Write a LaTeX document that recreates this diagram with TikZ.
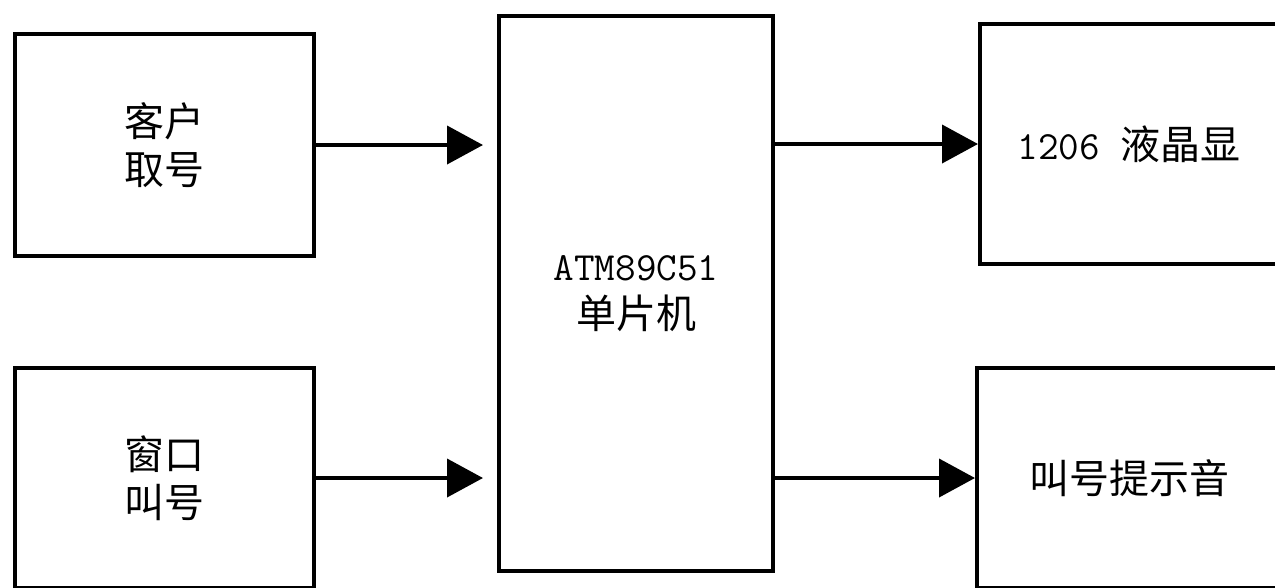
\documentclass[tikz,border=0pt]{standalone}
\usepackage{fontspec}
\newfontfamily\cjk{Noto Sans CJK SC}
\usetikzlibrary{arrows.meta}

\tikzset{every picture/.style={line width=0.75pt}}
\tikzset{
  blockbox/.style={draw, line width=3pt, align=center, inner sep=0pt,
    font=\fontsize{30}{36}\selectfont\cjk},
  flowarrow/.style={line width=3pt, -{Triangle[length=27pt,width=28.5pt]}}
}

\begin{document}
\begin{tikzpicture}[x=0.75pt,y=0.75pt,yscale=-1,xscale=1]
\useasboundingbox (0,0) rectangle (1275,587);
\clip (0,0) rectangle (1275,587);

%Shape: Rectangle [id:take]
\node [blockbox, minimum width=224.25pt, minimum height=166.5pt] (take) at (164.5,145) {客户\\取号};
%Shape: Rectangle [id:call]
\node [blockbox, minimum width=224.25pt, minimum height=165pt] (call) at (164.5,478) {窗口\\叫号};
%Shape: Rectangle [id:cpu]
\node [blockbox, minimum width=205.5pt, minimum height=416.25pt] (cpu) at (636,293.5) {{\ttfamily ATM89C51}\\单片机};
%Shape: Rectangle [id:lcd]
\node [blockbox, minimum width=223.5pt, minimum height=180pt] (lcd) at (1129,144) {{\ttfamily 1206 }液晶显};
%Shape: Rectangle [id:beep]
\node [blockbox, minimum width=228pt, minimum height=165pt] (beep) at (1129,478) {叫号提示音};

%Straight Lines [id:inputs]
\draw [flowarrow, shorten >=10.5pt] (take.east) -- (take.east -| cpu.west) ;
\draw [flowarrow, shorten >=10.5pt] (call.east) -- (call.east -| cpu.west) ;
%Straight Lines [id:outputs]
\draw [flowarrow] (cpu.east |- lcd.west) -- (lcd.west) ;
\draw [flowarrow] (cpu.east |- beep.west) -- (beep.west) ;

\end{tikzpicture}
\end{document}
